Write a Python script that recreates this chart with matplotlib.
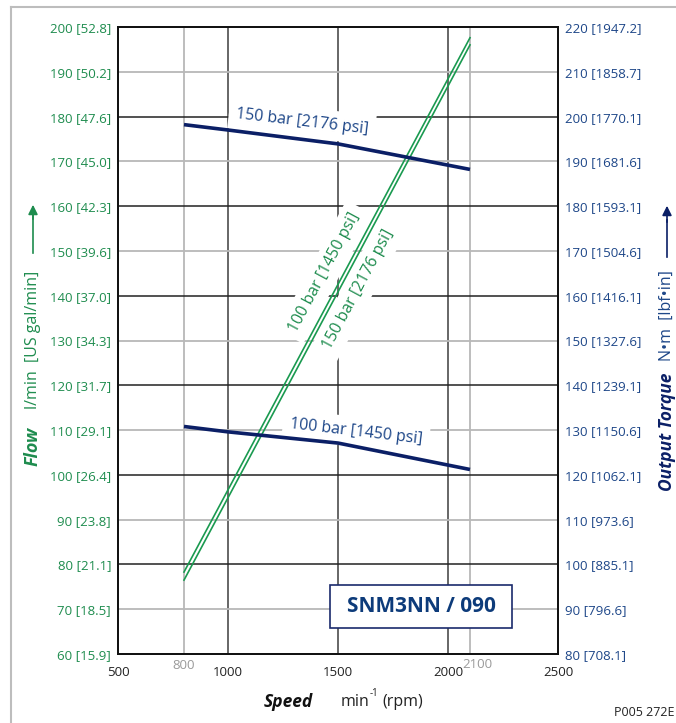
import math
import matplotlib.pyplot as plt
from matplotlib.lines import Line2D
from matplotlib.patches import Rectangle

plt.rcParams['font.family'] = ['Open Sans', 'DejaVu Sans']

W, H = 676, 723

# data
speed_flow = [800, 2100]
flow_100bar = [78.3, 197.6]
flow_150bar = [76.5, 196.0]

speed_torque = [800, 1000, 1500, 2100]
torque_150bar = [198.2, 197.0, 193.9, 188.2]
torque_100bar = [130.8, 129.6, 127.1, 121.2]

flow_ticks = list(range(60, 201, 10))
flow_usgal = ['15.9', '18.5', '21.1', '23.8', '26.4', '29.1', '31.7', '34.3',
              '37.0', '39.6', '42.3', '45.0', '47.6', '50.2', '52.8']
torque_ticks = list(range(80, 221, 10))
torque_lbfin = ['708.1', '796.6', '885.1', '973.6', '1062.1', '1150.6', '1239.1',
                '1327.6', '1416.1', '1504.6', '1593.1', '1681.6', '1770.1',
                '1858.7', '1947.2']
speed_ticks = [500, 1000, 1500, 2000, 2500]

GREEN = '#1e8c4e'
GREEN_LINE = '#1a9a50'
NAVY = '#0b1f66'
BLUE_TXT = '#1d4688'
BOX_TXT = '#0d3b7a'


def fx(x):
    return x / W


def fy(y):
    return 1 - y / H


fig = plt.figure(figsize=(W / 100, H / 100), dpi=100)
ax = fig.add_axes([fx(118), fy(654), 440 / W, 627 / H])
ax.set_xlim(500, 2500)
ax.set_ylim(60, 200)
ax2 = ax.twinx()
ax2.set_ylim(80, 220)

# grid
for s in [1000, 1500, 2000]:
    ax.axvline(s, color='#5a5a5a', lw=1.3, zorder=1)
for s in [800, 2100]:
    ax.axvline(s, color='#b8b8b8', lw=1.3, zorder=1)
for f in range(70, 200, 10):
    if f % 20 == 0:
        ax.axhline(f, color='#222222', lw=1.1, zorder=1)
    else:
        ax.axhline(f, color='#b8b8b8', lw=1.3, zorder=1)

# flow lines (double green)
ax.plot(speed_flow, flow_100bar, color=GREEN_LINE, lw=1.2, zorder=3)
ax.plot(speed_flow, flow_150bar, color=GREEN_LINE, lw=1.2, zorder=3)

# torque lines
ax2.plot(speed_torque, torque_150bar, color=NAVY, lw=2.6, zorder=3, solid_capstyle='butt')
ax2.plot(speed_torque, torque_100bar, color=NAVY, lw=2.6, zorder=3, solid_capstyle='butt')

# ticks
ax.set_xticks(speed_ticks)
ax.set_xticklabels([str(s) for s in speed_ticks], fontsize=9.5, color='#222222')
ax.set_yticks(flow_ticks)
ax.set_yticklabels([f'{f} [{g}]' for f, g in zip(flow_ticks, flow_usgal)],
                   fontsize=9.5, color=GREEN)
ax2.set_yticks(torque_ticks)
ax2.set_yticklabels([f'{t} [{l}]' for t, l in zip(torque_ticks, torque_lbfin)],
                    fontsize=9.5, color=BLUE_TXT)
ax.tick_params(axis='both', length=0, pad=5)
ax.tick_params(axis='x', pad=9)
ax2.tick_params(axis='y', length=0, pad=5)
for a in (ax, ax2):
    for sp in a.spines.values():
        sp.set_color('#111111')
        sp.set_linewidth(1.3)

# extra grey speed labels
ax.text(800, 60 - 12 / 4.479, '800', fontsize=9.5, color='#9a9a9a',
        ha='center', va='center', clip_on=False)
ax.text(2135, 60 - 11 / 4.479, '2100', fontsize=9.5, color='#9a9a9a',
        ha='center', va='center', clip_on=False)

# rotated labels on the flow lines
p0 = ax.transData.transform((speed_flow[0], flow_100bar[0]))
p1 = ax.transData.transform((speed_flow[1], flow_100bar[1]))
ang = math.degrees(math.atan2(p1[1] - p0[1], p1[0] - p0[0]))
wbox = dict(facecolor='white', edgecolor='none', pad=5)
ax.text(1440, 145.3, '100 bar [1450 psi]', rotation=ang, rotation_mode='anchor',
        ha='center', va='center', fontsize=11.5, color=GREEN, bbox=wbox, zorder=2)
ax.text(1592, 141.3, '150 bar [2176 psi]', rotation=ang, rotation_mode='anchor',
        ha='center', va='center', fontsize=11.5, color=GREEN, bbox=wbox, zorder=2)

# torque labels
ax2.text(1336, 198.8, '150 bar [2176 psi]', rotation=-6.7, rotation_mode='anchor',
         ha='center', va='center', fontsize=11.5, color=BLUE_TXT, bbox=wbox, zorder=2)
ax2.text(1582, 129.6, '100 bar [1450 psi]', rotation=-6.7, rotation_mode='anchor',
         ha='center', va='center', fontsize=11.5, color=BLUE_TXT, bbox=wbox, zorder=2)

# model box
fig.add_artist(Rectangle((fx(330), fy(628)), 182 / W, 43 / H, transform=fig.transFigure,
                         facecolor='white', edgecolor='#1a2a6c', lw=1.2, zorder=5))
fig.text(fx(421), fy(607), 'SNM3NN / 090', fontsize=15, fontweight='bold',
         color=BOX_TXT, ha='center', va='center', zorder=6)

# axis titles
fig.text(fx(33), fy(446), 'Flow', rotation=90, fontsize=13, fontweight='bold',
         fontstyle='italic', color=GREEN, ha='center', va='center')
fig.text(fx(33), fy(340), 'l/min  [US gal/min]', rotation=90, fontsize=11.5,
         color=GREEN, ha='center', va='center')
fig.add_artist(Line2D([fx(33), fx(33)], [fy(253), fy(215)], color=GREEN, lw=1.2))
ax.annotate('', xy=(fx(33), fy(202)), xytext=(fx(33), fy(222)), xycoords='figure fraction',
            arrowprops=dict(arrowstyle='-|>', color=GREEN, lw=1.2, mutation_scale=14))

fig.text(fx(667), fy(432), 'Output Torque', rotation=90, fontsize=12.5, fontweight='bold',
         fontstyle='italic', color=NAVY, ha='center', va='center')
fig.text(fx(667), fy(316), 'N•m  [lbf•in]', rotation=90, fontsize=11.5,
         color=BLUE_TXT, ha='center', va='center')
fig.add_artist(Line2D([fx(667), fx(667)], [fy(257), fy(220)], color=NAVY, lw=1.2))
ax.annotate('', xy=(fx(667), fy(203)), xytext=(fx(667), fy(225)), xycoords='figure fraction',
            arrowprops=dict(arrowstyle='-|>', color=NAVY, lw=1.2, mutation_scale=14))

fig.text(fx(288), fy(702), 'Speed', fontsize=12.5, fontweight='bold', fontstyle='italic',
         color='#111111', ha='center', va='center')
fig.text(fx(341), fy(702), 'min', fontsize=11.5, color='#222222', ha='left', va='center')
fig.text(fx(370), fy(693), '-1', fontsize=7, color='#222222', ha='left', va='center')
fig.text(fx(382), fy(702), '(rpm)', fontsize=11.5, color='#222222', ha='left', va='center')
fig.text(fx(675), fy(712), 'P005 272E', fontsize=9, color='#222222', ha='right', va='center')

# outer frame
fig.add_artist(Line2D([fx(11), fx(676)], [fy(7), fy(7)], color='#bdbdbd', lw=1.5))
fig.add_artist(Line2D([fx(11), fx(11)], [fy(7), fy(723)], color='#bdbdbd', lw=1.5))

fig.savefig('out.png', dpi=100)
